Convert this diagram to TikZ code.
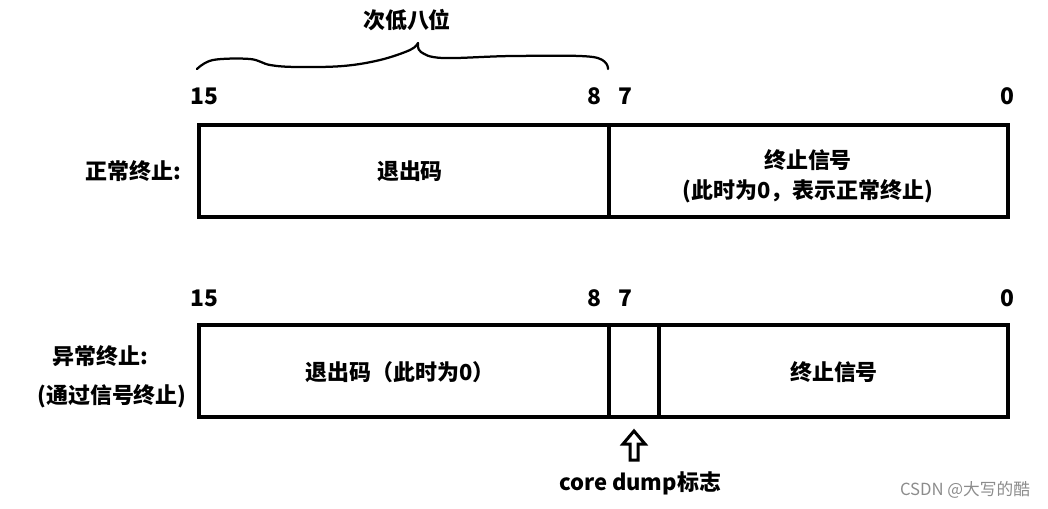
\documentclass[tikz,border=0pt]{standalone}
\usepackage{fontspec}
\setmainfont{Noto Sans CJK SC}
\usepackage{tikz}
\usetikzlibrary{positioning, calc}

\begin{document}
\begin{tikzpicture}[x=0.02cm, y=-0.02cm,
    field/.style={draw=black, line width=0.08cm},
    lbl/.style={font=\fontsize{12.5}{15}\selectfont\bfseries, inner sep=0pt, align=center},
    bitno/.style={font=\fontsize{13}{15}\selectfont\bfseries, inner sep=0pt},
    watermark/.style={font=\fontsize{9.5}{11}\selectfont, text=black!45, inner sep=0pt}
]
    \useasboundingbox (0,0) rectangle (1048,508);

    % upper register: normal exit
    \draw [field] (199,125) rectangle (1008,217);
    \draw [field] (609,125) -- (609,217);
    \node [bitno] (hi15) at (204,96) {15};
    \node [bitno] (hi8) at (594,96) {8};
    \node [bitno] (hi7) at (625,96) {7};
    \node [bitno] (hi0) at (1007,96) {0};
    \node [lbl] (normal) at (133,171) {正常终止:};
    \node [lbl] (code) at (410,171) {退出码};
    \node [lbl] (sig) at (808,160) {终止信号};
    \node [lbl, below=0.16cm of sig] (sigzero) {(此时为0，表示正常终止)};

    % brace over the second-lowest byte
    \draw [line width=0.045cm, line cap=round, line join=round] plot [smooth, tension=0.6] coordinates
        {(197,69) (213,60) (250,59) (270,65) (297,67) (343,66) (380,60) (410,50) (418,43)};
    \draw [line width=0.045cm, line cap=round, line join=round] plot [smooth, tension=0.6] coordinates
        {(418,43) (421,52) (443,58) (513,56) (593,57) (608,69)};
    \node [lbl] (byte) at (407,20) {次低八位};

    % lower register: killed by a signal
    \draw [field] (199,325) rectangle (1008,417);
    \draw [field] (609,325) -- (609,417);
    \draw [field] (659,325) -- (659,417);
    \node [bitno] (lo15) at (204,298) {15};
    \node [bitno] (lo8) at (594,298) {8};
    \node [bitno] (lo7) at (625,298) {7};
    \node [bitno] (lo0) at (1007,298) {0};
    \node [lbl] (abnormal) at (100,356) {异常终止:};
    \node [lbl] (bysig) at (112,396) {(通过信号终止)};
    \node [lbl] (code2) at (400,372) {退出码（此时为0）};
    \node [lbl] (sig2) at (834,372) {终止信号};

    % core dump flag, hollow arrow up to bit 7
    \node [lbl] (core) at (640,483) {core dump标志};
    \draw [line width=0.06cm, line join=miter] (634,431) -- (645,444) -- (638,444) -- (638,460)
        -- (630,460) -- (630,444) -- (623,444) -- cycle;

    \node [watermark] (wm) at (965,490) {CSDN @大写的酷};
\end{tikzpicture}
\end{document}
